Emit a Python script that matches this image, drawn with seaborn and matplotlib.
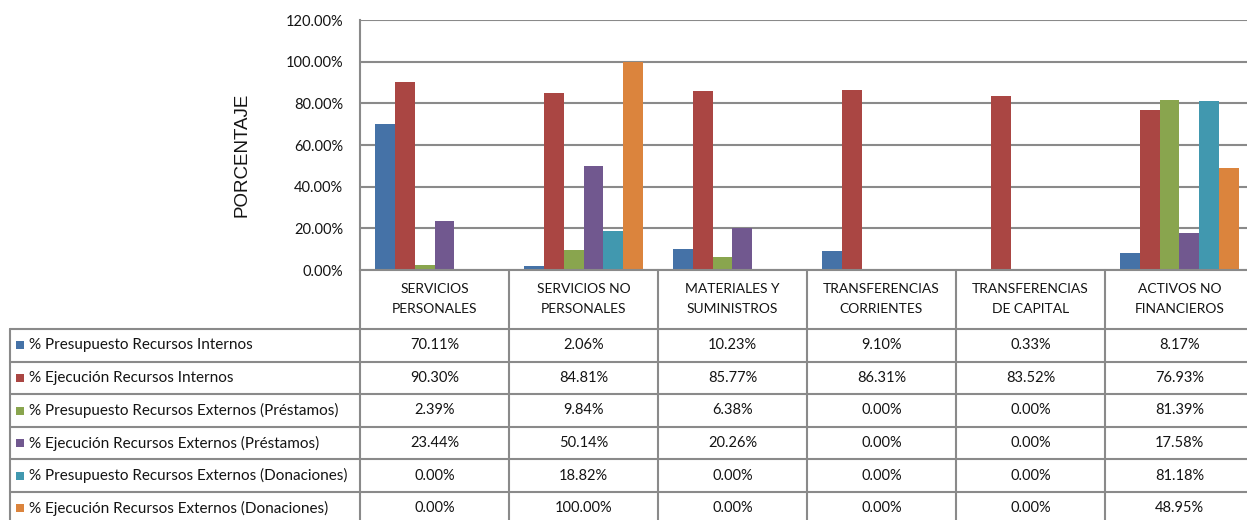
import matplotlib
matplotlib.use("Agg")
import matplotlib.pyplot as plt
import matplotlib.transforms as mtrans
from matplotlib.lines import Line2D
from matplotlib.patches import Rectangle
import seaborn as sns
import pandas as pd

# ---------------- data ----------------
categories = ["SERVICIOS\nPERSONALES", "SERVICIOS NO\nPERSONALES", "MATERIALES Y\nSUMINISTROS",
              "TRANSFERENCIAS\nCORRIENTES", "TRANSFERENCIAS\nDE CAPITAL", "ACTIVOS NO\nFINANCIEROS"]
series_names = ["% Presupuesto Recursos Internos",
                "% Ejecución Recursos Internos",
                "% Presupuesto Recursos Externos (Préstamos)",
                "% Ejecución Recursos Externos (Préstamos)",
                "% Presupuesto Recursos Externos (Donaciones)",
                "% Ejecución Recursos Externos (Donaciones)"]
pres_int = [70.11, 2.06, 10.23, 9.10, 0.33, 8.17]
ejec_int = [90.30, 84.81, 85.77, 86.31, 83.52, 76.93]
pres_ext_prest = [2.39, 9.84, 6.38, 0.00, 0.00, 81.39]
ejec_ext_prest = [23.44, 50.14, 20.26, 0.00, 0.00, 17.58]
pres_ext_don = [0.00, 18.82, 0.00, 0.00, 0.00, 81.18]
ejec_ext_don = [0.00, 100.00, 0.00, 0.00, 0.00, 48.95]
series_values = [pres_int, ejec_int, pres_ext_prest, ejec_ext_prest, pres_ext_don, ejec_ext_don]
colors = ["#4572A7", "#AA4643", "#89A54E", "#71588F", "#4198AF", "#DB843D"]
y_ticks = [0, 20, 40, 60, 80, 100, 120]
y_label = "PORCENTAJE"

rows = []
for name, vals in zip(series_names, series_values):
    for cat, v in zip(categories, vals):
        rows.append({"cat": cat, "serie": name, "val": v})
df = pd.DataFrame(rows)

# ---------------- figure ----------------
W, H = 1247, 520
sns.set_style("white")
plt.rcParams["font.family"] = ["Lato", "DejaVu Sans"]
fig = plt.figure(figsize=(W / 100, H / 100), dpi=100)
fig.patch.set_facecolor("white")

ax_left, ax_right, ax_top, ax_bottom = 360, 1254, 20, 270
ax = fig.add_axes([ax_left / W, 1 - ax_bottom / H, (ax_right - ax_left) / W, (ax_bottom - ax_top) / H])

sns.barplot(data=df, x="cat", y="val", hue="serie", order=categories, hue_order=series_names,
            palette=colors, saturation=1, width=0.8, dodge=True, legend=False, ax=ax,
            linewidth=0, errorbar=None)

grid_c = "#8a8a8a"
text_c = "#141414"
ax.set_xlim(-0.5, len(categories) - 0.5)
ax.set_ylim(0, 120)
ax.set_yticks(y_ticks)
ax.set_yticklabels([f"{t:.2f}%" for t in y_ticks], fontsize=10.5, color=text_c)
ax.tick_params(axis="y", length=0, pad=12)
ax.set_xticks([])
ax.set_xlabel("")
ax.set_ylabel("")
ax.yaxis.grid(True, color=grid_c, linewidth=1.5)
ax.set_axisbelow(True)
for s in ["top", "right", "bottom"]:
    ax.spines[s].set_visible(False)
ax.spines["left"].set_color(grid_c)
ax.spines["left"].set_linewidth(1.5)

fig.text(242 / W, 1 - 155 / H, y_label, rotation=90, ha="center", va="center",
         fontsize=13.5, color=text_c, family=["Liberation Sans", "DejaVu Sans"])

# ---------------- data table ----------------
def fy(y):
    return 1 - y / H

blend = mtrans.blended_transform_factory(ax.transData, fig.transFigure)
row_top = 329
row_h = 32.6
n_rows = len(series_names)
table_bottom = row_top + row_h * n_rows

for i in range(len(categories) + 1):
    xb = i - 0.5
    fig.add_artist(Line2D([xb, xb], [fy(ax_bottom), fy(table_bottom)], transform=blend,
                          color=grid_c, linewidth=1.5))
fig.add_artist(Line2D([10 / W, 10 / W], [fy(row_top), fy(table_bottom)], transform=fig.transFigure,
                      color=grid_c, linewidth=1.5))
for r in range(n_rows + 1):
    y = row_top + r * row_h
    fig.add_artist(Line2D([10 / W, 1.0], [fy(y), fy(y)], transform=fig.transFigure,
                          color=grid_c, linewidth=1.5))
fig.add_artist(Line2D([ax_left / W, 1.0], [fy(ax_bottom), fy(ax_bottom)], transform=fig.transFigure,
                      color=grid_c, linewidth=1.5))

for i, cat in enumerate(categories):
    fig.text(i, fy(299), cat, transform=blend, ha="center", va="center", fontsize=10,
             color=text_c, linespacing=1.75)

for r, (name, vals, c) in enumerate(zip(series_names, series_values, colors)):
    yc = row_top + r * row_h + row_h / 2
    fig.add_artist(Rectangle((16 / W, fy(yc + 4)), 8 / W, 8 / H, transform=fig.transFigure,
                             facecolor=c, edgecolor="none"))
    fig.text(29 / W, fy(yc), name, ha="left", va="center", fontsize=11, color=text_c)
    for i, v in enumerate(vals):
        fig.text(i, fy(yc), f"{v:.2f}%", transform=blend, ha="center", va="center",
                 fontsize=10.5, color=text_c)

fig.savefig("out.png", dpi=100, facecolor="white")
